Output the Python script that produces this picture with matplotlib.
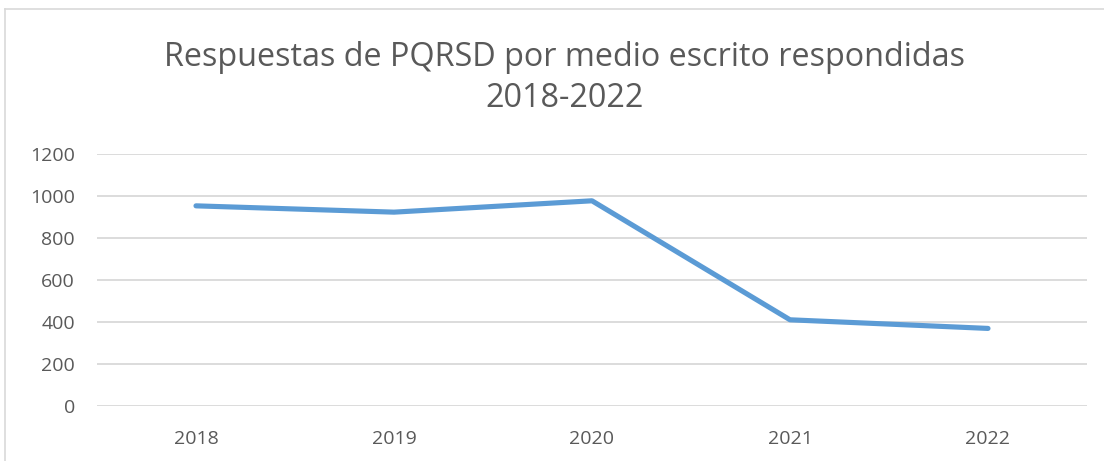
import matplotlib
matplotlib.use("Agg")
import matplotlib.pyplot as plt
from matplotlib.lines import Line2D

years = ["2018", "2019", "2020", "2021", "2022"]
responses = [952, 922, 976, 410, 369]
yticks = [0, 200, 400, 600, 800, 1000, 1200]
title = "Respuestas de PQRSD por medio escrito respondidas\n2018-2022"

W, H = 1104, 461
fig = plt.figure(figsize=(W / 100, H / 100), dpi=100)
ax = fig.add_axes([97 / W, 1 - 406 / H, (1087 - 97) / W, (406 - 153.7) / H])

x = list(range(len(years)))
ax.plot(x, responses, color="#5B9BD5", lw=3.7, solid_capstyle="round", solid_joinstyle="round", zorder=3)

ax.set_xlim(-0.5, len(years) - 0.5)
ax.set_ylim(0, 1200)
ax.set_yticks(yticks)
ax.set_xticks(x)
ax.set_xticklabels(years)
ax.grid(axis="y", color="#D9D9D9", lw=1.3)
ax.set_axisbelow(True)
for s in ax.spines.values():
    s.set_visible(False)
ax.tick_params(axis="both", length=0, labelsize=14, labelcolor="#595959")
ax.tick_params(axis="y", pad=16)
ax.tick_params(axis="x", pad=17)
for lab in ax.get_xticklabels() + ax.get_yticklabels():
    lab.set_fontfamily("Open Sans")

fig.text(565 / W, 1 - 78 / H, title, ha="center", va="center", fontsize=23.3,
         color="#595959", family="Open Sans", linespacing=1.3)

# chart-area border (partially cropped)
fig.add_artist(Line2D([4.5 / W, 4.5 / W], [0, 1 - 9.5 / H], transform=fig.transFigure, color="#D9D9D9", lw=1.2))
fig.add_artist(Line2D([4.5 / W, 1], [1 - 9.5 / H, 1 - 9.5 / H], transform=fig.transFigure, color="#D9D9D9", lw=1.2))

fig.savefig("out.png", dpi=100)
